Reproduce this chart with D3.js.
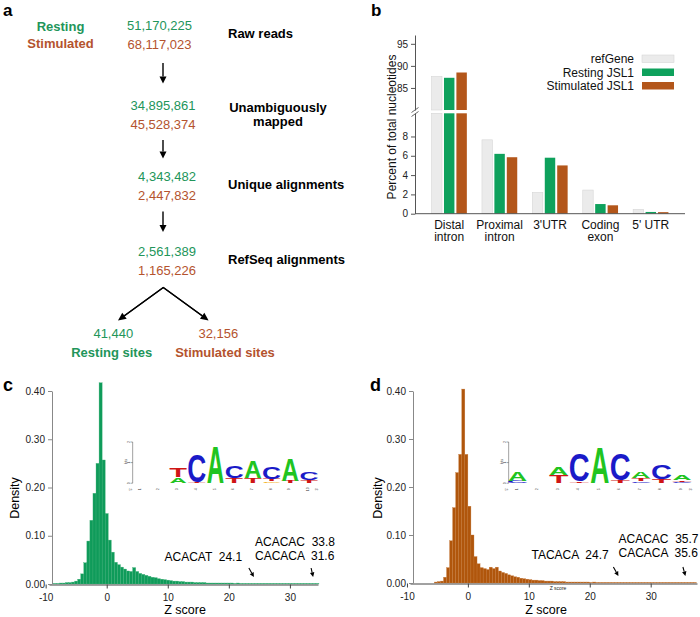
<!DOCTYPE html>
<html><head><meta charset="utf-8">
<script src="https://cdn.jsdelivr.net/npm/d3@7"></script>
<style>body{margin:0;background:#fff}svg{display:block}text{font-family:"Liberation Sans",Arial,Helvetica,sans-serif}</style>
</head><body><svg id="chart" width="700" height="617"></svg>
<script>
// ---------------- DATA ----------------
// panel a
const conditionNames = ["Resting", "Stimulated"];
const stepLabels = [["Raw reads"], ["Unambiguously", "mapped"], ["Unique alignments"], ["RefSeq alignments"]];
const restingCounts = ["51,170,225", "34,895,861", "4,343,482", "2,561,389"];
const stimulatedCounts = ["68,117,023", "45,528,374", "2,447,832", "1,165,226"];
const siteCounts = ["41,440", "32,156"];
const siteLabels = ["Resting sites", "Stimulated sites"];

// panel b
const regionCategories = [["Distal", "intron"], ["Proximal", "intron"], ["3'UTR"], ["Coding", "exon"], ["5' UTR"]];
const seriesNames = ["refGene", "Resting JSL1", "Stimulated JSL1"];
const refGeneValues = [87.6, 7.65, 2.2, 2.45, 0.45];
const restingValues = [87.3, 6.2, 5.8, 1.0, 0.18];
const stimulatedValues = [88.5, 5.85, 5.0, 0.87, 0.16];
const upperTicks = [85, 90, 95];
const lowerTicks = [0, 2, 4, 6, 8];

// panels c, d : histogram densities (bin width 0.5)
const histXTicks = [-10, 0, 10, 20, 30];
const histYTicks = [0, 0.1, 0.2, 0.3, 0.4];
const binWidth = 0.5;
const restingBinStart = -8.75;
const restingDensity = [
  0.001, 0.001, 0.002, 0.002, 0.003, 0.003, 0.004, 0.006, 0.010, 0.021,
  0.044, 0.089, 0.132, 0.188, 0.250, 0.417, 0.257, 0.146, 0.091, 0.066,
  0.045, 0.040, 0.035, 0.031, 0.027, 0.026, 0.034, 0.026, 0.022, 0.020,
  0.018, 0.016, 0.014, 0.013, 0.011, 0.010, 0.009, 0.008, 0.007, 0.006,
  0.006, 0.005, 0.005, 0.004, 0.004, 0.004, 0.003, 0.003, 0.003, 0.003,
  0.002, 0.002, 0.002, 0.002, 0.002, 0.002, 0.002, 0.002, 0.002, 0.001,
  0.002, 0.001, 0.001, 0.001, 0.001, 0.001, 0.001, 0.001, 0.001, 0.001,
  0.001, 0.001, 0.001, 0.001, 0.001, 0.001, 0.001, 0.001, 0.001, 0.001,
  0.001, 0.001, 0.001, 0.001, 0.001, 0.001, 0.001
];
const stimulatedBinStart = -5.5;
const stimulatedDensity = [
  0.002, 0.003, 0.004, 0.012, 0.032, 0.088, 0.157, 0.230, 0.268, 0.404,
  0.268, 0.160, 0.100, 0.055, 0.040, 0.032, 0.030, 0.028, 0.033, 0.030,
  0.033, 0.025, 0.022, 0.020, 0.017, 0.015, 0.013, 0.012, 0.010, 0.009,
  0.008, 0.007, 0.006, 0.006, 0.005, 0.005, 0.004, 0.004, 0.004, 0.003,
  0.003, 0.003, 0.003, 0.002, 0.002, 0.002, 0.002, 0.002, 0.002, 0.002,
  0.002, 0.001, 0.002, 0.001, 0.001, 0.001, 0.001, 0.001, 0.001, 0.001,
  0.001, 0.001, 0.001, 0.001, 0.001, 0.001, 0.001, 0.001, 0.001, 0.001,
  0.001, 0.001, 0.001, 0.001, 0.001, 0.001, 0.001, 0.001, 0.001, 0.001,
  0.001, 0.001, 0.001, 0.001, 0.001, 0.001
];
const restingAnnot = [["ACACAT  24.1"], ["ACACAC  33.8", "CACACA  31.6"]];
const restingArrowAt = [24.1, 33.8];
const stimulatedAnnot = [["TACACA  24.7"], ["ACACAC  35.7", "CACACA  35.6"]];
const stimulatedArrowAt = [24.7, 35.7];

// sequence logos: stacks bottom->top, [letter, bits]
const restingLogo = [
  [], [], [["A", 0.3], ["T", 0.5]], [["T", 0.07], ["C", 1.42]], [["A", 1.9]],
  [["T", 0.24], ["C", 0.64]], [["T", 0.24], ["A", 0.87]], [["G", 0.08], ["T", 0.14], ["C", 0.64]],
  [["T", 0.11], ["A", 1.2]], [["T", 0.14], ["C", 0.4]]
];
const stimulatedLogo = [
  [["C", 0.12], ["A", 0.5]], [], [["T", 0.4], ["A", 0.4]], [["T", 0.08], ["C", 1.45]], [["A", 1.87]],
  [["T", 0.13], ["C", 1.4]], [["C", 0.08], ["T", 0.16], ["A", 0.36]], [["T", 0.2], ["C", 0.78]],
  [["C", 0.07], ["T", 0.08], ["A", 0.26]]
];

// ---------------- STYLE ----------------
const GREEN_T = "#22955a", RED_T = "#b4532e";
const GREEN_BAR = "#0ea15c", ORANGE_BAR = "#b3561a", GRAY_BAR = "#ebebeb";
const GREEN_H = "#0f9b5a", ORANGE_H = "#b0560c";
const LETTER_COLORS = { A: "#20c420", C: "#1a1ac8", G: "#f2a900", T: "#cf1515" };
const INK = { A: 0.70, C: 0.64, G: 0.68, T: 0.58 };

const svg = d3.select("#chart");

// ---------------- PANEL A ----------------
const pa = svg.append("g");
pa.append("text").attr("x", 3).attr("y", 15.5).attr("font-size", 17).attr("font-weight", "bold").text("a");
pa.append("text").attr("x", 60.5).attr("y", 30.5).attr("text-anchor", "middle").attr("font-size", 13)
  .attr("font-weight", "bold").attr("fill", GREEN_T).text(conditionNames[0]);
pa.append("text").attr("x", 60.5).attr("y", 48.3).attr("text-anchor", "middle").attr("font-size", 13)
  .attr("font-weight", "bold").attr("fill", RED_T).text(conditionNames[1]);

const rowLayout = [
  { cx: 159.5, g: 29.5, r: 48.5, ly: [37.5] },
  { cx: 163, g: 110, r: 129, ly: [111.5, 125.5] },
  { cx: 167, g: 180.7, r: 200, ly: [188.5] },
  { cx: 167, g: 256, r: 275, ly: [264] }
];
stepLabels.forEach((lab, i) => {
  const L = rowLayout[i];
  pa.append("text").attr("x", L.cx).attr("y", L.g).attr("text-anchor", "middle").attr("font-size", 13)
    .attr("fill", GREEN_T).text(restingCounts[i]);
  pa.append("text").attr("x", L.cx).attr("y", L.r).attr("text-anchor", "middle").attr("font-size", 13)
    .attr("fill", RED_T).text(stimulatedCounts[i]);
  lab.forEach((s, j) => {
    const t = pa.append("text").attr("y", L.ly[j]).attr("font-size", 13).attr("font-weight", "bold").text(s);
    if (lab.length > 1) t.attr("x", 278).attr("text-anchor", "middle");
    else t.attr("x", 228).attr("text-anchor", "start");
  });
});

function arrow(g, x1, y1, x2, y2, len, wid, sw) {
  const a = Math.atan2(y2 - y1, x2 - x1);
  const bx = x2 - len * Math.cos(a), by = y2 - len * Math.sin(a);
  g.append("line").attr("x1", x1).attr("y1", y1).attr("x2", bx).attr("y2", by)
    .attr("stroke", "#000").attr("stroke-width", sw);
  const px = -Math.sin(a) * wid / 2, py = Math.cos(a) * wid / 2;
  g.append("path").attr("d", `M${x2},${y2}L${bx + px},${by + py}L${bx - px},${by - py}Z`).attr("fill", "#000");
}
arrow(pa, 163, 63, 163, 83.5, 7, 7, 1.4);
arrow(pa, 163, 140, 163, 158.5, 7, 7, 1.4);
arrow(pa, 163, 211.5, 163, 232, 7, 7, 1.4);
pa.append("path").attr("d", "M124,316 L163.3,287.5 L202.5,316").attr("fill", "none").attr("stroke", "#000").attr("stroke-width", 1.4);
arrow(pa, 163.3, 287.5, 118, 320.5, 8, 7.5, 1.4);
arrow(pa, 163.3, 287.5, 208.6, 320.5, 8, 7.5, 1.4);

[[113.3, GREEN_T], [218.3, RED_T]].forEach(([cx, col], i) => {
  pa.append("text").attr("x", cx).attr("y", 337.5).attr("text-anchor", "middle").attr("font-size", 13)
    .attr("fill", col).text(siteCounts[i]);
});
[[111.7, GREEN_T], [225, RED_T]].forEach(([cx, col], i) => {
  pa.append("text").attr("x", cx).attr("y", 356.5).attr("text-anchor", "middle").attr("font-size", 13)
    .attr("font-weight", "bold").attr("fill", col).text(siteLabels[i]);
});

// ---------------- PANEL B ----------------
const pb = svg.append("g");
pb.append("text").attr("x", 371).attr("y", 15.5).attr("font-size", 17).attr("font-weight", "bold").text("b");
const bx0 = d3.scaleBand().domain(d3.range(regionCategories.length)).range([424, 676]).paddingInner(0.3).paddingOuter(0.15);
const bx1 = d3.scaleBand().domain(seriesNames).range([0, bx0.bandwidth()]).paddingInner(0.16);
const yLow = d3.scaleLinear().domain([0, 10.4]).range([213.7, 113.3]);
const yUp = d3.scaleLinear().domain([80, 97]).range([110, 35]);
const bColors = [GRAY_BAR, GREEN_BAR, ORANGE_BAR];
const bSeries = [refGeneValues, restingValues, stimulatedValues];

bSeries.forEach((vals, si) => {
  vals.forEach((v, ci) => {
    const x = bx0(ci) + bx1(seriesNames[si]);
    const w = bx1.bandwidth();
    const top = v > yLow.domain()[1] ? yLow(yLow.domain()[1]) : yLow(v);
    const r = pb.append("rect").attr("x", x).attr("y", top).attr("width", w).attr("height", yLow(0) - top)
      .attr("fill", bColors[si]);
    if (si === 0) r.attr("stroke", "#d6d6d6").attr("stroke-width", 0.6);
    if (v > yLow.domain()[1]) {
      const r2 = pb.append("rect").attr("x", x).attr("y", yUp(v)).attr("width", w)
        .attr("height", yUp(yUp.domain()[0]) - yUp(v)).attr("fill", bColors[si]);
      if (si === 0) r2.attr("stroke", "#d6d6d6").attr("stroke-width", 0.6);
    }
  });
});

const axL = pb.append("g").attr("transform", "translate(415,0)")
  .call(d3.axisLeft(yLow).tickValues(lowerTicks).tickSize(4).tickSizeOuter(0).tickFormat(d => d));
const axU = pb.append("g").attr("transform", "translate(415,0)")
  .call(d3.axisLeft(yUp).tickValues(upperTicks).tickSize(4).tickSizeOuter(0).tickFormat(d => d));
[axL, axU].forEach(a => {
  a.selectAll("path,line").attr("stroke", "#555");
  a.selectAll("text").attr("font-size", 10).attr("fill", "#222").attr("font-family", "Liberation Sans, Arial");
});
// axis break marks
pb.append("line").attr("x1", 411.5).attr("y1", 112.5).attr("x2", 418.5).attr("y2", 107.5).attr("stroke", "#555").attr("stroke-width", 0.9);
pb.append("line").attr("x1", 411.5).attr("y1", 116.5).attr("x2", 418.5).attr("y2", 111.5).attr("stroke", "#555").attr("stroke-width", 0.9);
pb.append("rect").attr("x", 414).attr("y", 111.4).attr("width", 2).attr("height", 1.6).attr("fill", "#fff");
// x axis
pb.append("line").attr("x1", 415).attr("x2", 685).attr("y1", yLow(0)).attr("y2", yLow(0)).attr("stroke", "#555").attr("stroke-width", 1);
regionCategories.forEach((lines, ci) => {
  const cx = bx0(ci) + bx0.bandwidth() / 2;
  lines.forEach((s, j) => {
    pb.append("text").attr("x", cx).attr("y", 229 + j * 11.5).attr("text-anchor", "middle").attr("font-size", 12).attr("fill", "#111").text(s);
  });
});
pb.append("text").attr("transform", "translate(395.5,127) rotate(-90)").attr("text-anchor", "middle")
  .attr("font-size", 12).attr("fill", "#111").text("Percent of total nucleotides");
// legend
seriesNames.forEach((s, i) => {
  const yb = 63 + i * 13.5;
  pb.append("text").attr("x", 634).attr("y", yb).attr("text-anchor", "end").attr("font-size", 12).attr("fill", "#111").text(s);
  const r = pb.append("rect").attr("x", 642).attr("y", yb - 8).attr("width", 32).attr("height", 7.5).attr("fill", bColors[i]);
  if (i === 0) r.attr("stroke", "#d6d6d6").attr("stroke-width", 0.6);
});

// ---------------- PANELS C, D ----------------
function drawHist(o) {
  const g = svg.append("g");
  g.append("text").attr("x", o.letterX).attr("y", 391).attr("font-size", 18).attr("font-weight", "bold").text(o.letter);
  const x = d3.scaleLinear().domain(o.xDomain).range(o.xRange);
  const y = d3.scaleLinear().domain([0, 0.4]).range([o.y0, 391]);
  const bins = o.density.map((d, i) => ({ x0: o.start + i * binWidth, x1: o.start + (i + 1) * binWidth, d }));
  g.selectAll("rect.bar").data(bins).join("rect").attr("class", "bar")
    .attr("x", b => x(b.x0)).attr("width", b => x(b.x1) - x(b.x0))
    .attr("y", b => y(b.d)).attr("height", b => y(0) - y(b.d))
    .attr("fill", o.color).attr("stroke", o.stroke).attr("stroke-width", 0.35);
  const ax = g.append("g").attr("transform", `translate(0,${o.y0 + 0.5})`)
    .call(d3.axisBottom(x).tickValues(histXTicks).tickSize(4).tickSizeOuter(0).tickFormat(d => String(d)));
  const ay = g.append("g").attr("transform", `translate(${o.xRange[0] + 3},0)`)
    .call(d3.axisLeft(y).tickValues(histYTicks).tickSize(4).tickSizeOuter(0).tickFormat(d3.format(".2f")));
  ax.selectAll("path,line").attr("stroke", "#444");
  ay.selectAll("path,line").attr("stroke", "#888");
  [ax, ay].forEach(a => a.selectAll("text").attr("font-size", 10).attr("fill", "#222").attr("font-family", "Liberation Sans, Arial"));
  ax.selectAll("text").attr("dy", "0.95em");
  g.append("text").attr("x", (x(-10) + x(35)) / 2 + 2).attr("y", 614).attr("text-anchor", "middle").attr("font-size", 12.5).text("Z score");
  g.append("text").attr("transform", `translate(${o.densX},498) rotate(-90)`).attr("text-anchor", "middle").attr("font-size", 12.5).text("Density");
  // annotations
  g.append("text").attr("x", o.annX[0]).attr("y", o.annY[0]).attr("font-size", 12)
    .style("white-space", "pre").text(o.annot[0][0]);
  o.annot[1].forEach((s, j) => g.append("text").attr("x", o.annX[1]).attr("y", o.annY[1] + j * 14.5)
    .attr("font-size", 12).style("white-space", "pre").text(s));
  o.arrowAt.forEach((v, i) => {
    const tx = x(v), ty = o.y0 - 7;
    arrow(g, tx - o.arrowDx[i], ty - 9, tx, ty, 4.5, 4.5, 1.1);
  });
  // logo
  const lx = d3.scaleLinear().domain([1, o.logo.length]).range(o.logoRange);
  const ly = d3.scaleLinear().domain([0, 2]).range([483.2, 442]);
  const step = lx(2) - lx(1);
  const lw = step * 0.9;
  const axX = lx(1) - step * 0.43;
  g.append("line").attr("x1", axX).attr("x2", axX).attr("y1", ly(0)).attr("y2", ly(2)).attr("stroke", "#444").attr("stroke-width", 0.5);
  [0, 1, 2].forEach(b => {
    g.append("line").attr("x1", axX - 2).attr("x2", axX).attr("y1", ly(b)).attr("y2", ly(b)).attr("stroke", "#444").attr("stroke-width", 0.5);
    g.append("text").attr("transform", `translate(${axX - 2.5},${ly(b)}) rotate(-90)`).attr("text-anchor", "middle")
      .attr("font-size", 3.5).attr("fill", "#333").text(b);
  });
  g.append("text").attr("transform", `translate(${axX - 5.5},${ly(1.05)}) rotate(-90)`).attr("text-anchor", "middle")
    .attr("font-size", 3.5).attr("fill", "#333").text("bits");
  const posLabels = ["5'"].concat(d3.range(1, o.logo.length + 1).map(String)).concat(["3'"]);
  posLabels.forEach((s, i) => {
    const px = i === 0 ? axX - 1 : (i === posLabels.length - 1 ? lx(o.logo.length) + step * 0.5 : lx(i));
    g.append("text").attr("transform", `translate(${px},${ly(0) + 6}) rotate(-90)`).attr("text-anchor", "middle")
      .attr("font-size", 3.5).attr("fill", "#333").text(s);
  });
  o.logo.forEach((stack, i) => {
    let base = 0;
    stack.forEach(([ch, bits]) => {
      const yb = ly(base), yt = ly(base + bits), h = yb - yt;
      const fs = 100;
      g.append("text").text(ch).attr("text-anchor", "middle").attr("font-weight", "bold").attr("font-size", fs)
        .attr("fill", LETTER_COLORS[ch])
        .attr("transform", `translate(${lx(i + 1)},${yb - 0.15}) scale(${lw / (INK[ch] * fs)},${h * 0.96 / (0.735 * fs)})`);
      base += bits;
    });
  });
  return g;
}

drawHist({
  letter: "c", letterX: 3, density: restingDensity, start: restingBinStart,
  xDomain: [-9.45, 34.6], xRange: [49, 318], y0: 584, color: GREEN_H, stroke: "#3fb077",
  densX: 19, annot: restingAnnot, annX: [164.5, 255], annY: [560.5, 545.5], arrowAt: restingArrowAt, arrowDx: [5, 2],
  logo: restingLogo, logoRange: [140.7, 309]
});
const gd = drawHist({
  letter: "d", letterX: 370, density: stimulatedDensity, start: stimulatedBinStart,
  xDomain: [-9.5, 37.6], xRange: [410, 697], y0: 583, color: ORANGE_H, stroke: "#c57a3c",
  densX: 382, annot: stimulatedAnnot, annX: [531.5, 618.5], annY: [558.5, 542.5], arrowAt: stimulatedArrowAt, arrowDx: [5, 2.5],
  logo: stimulatedLogo, logoRange: [517.5, 682]
});
gd.append("text").attr("x", 558).attr("y", 590).attr("text-anchor", "middle").attr("font-size", 5).attr("fill", "#222").text("Z score");
</script></body></html>
